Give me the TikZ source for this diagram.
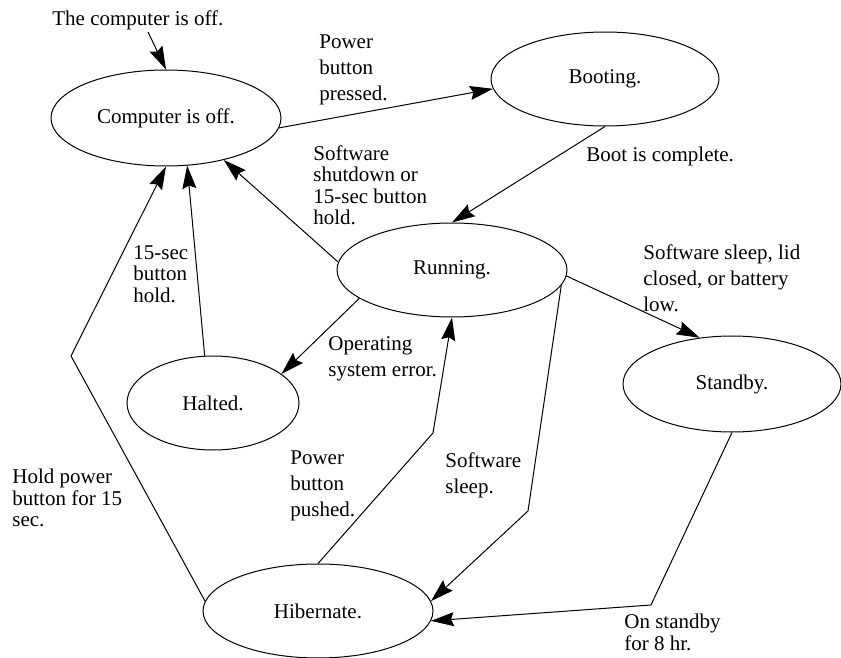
\documentclass[tikz,border=0pt]{standalone}
\usepackage{fontspec}
\setmainfont{Liberation Serif}
\usetikzlibrary{shapes.geometric,arrows.meta}
\tikzset{state/.style={draw,ellipse,inner sep=0pt,line width=0.5pt},
  note/.style={align=left,anchor=north west,inner sep=0pt},
  tight/.style={note,font=\fontsize{10.5}{10.75}\selectfont},
  trans/.style={-{Stealth[length=11.5pt,width=7pt,inset=1.5pt]},line width=0.5pt}}

\begin{document}
\begin{tikzpicture}[x=0.5pt,y=-0.5pt,font=\fontsize{10.5}{13}\selectfont]
      \useasboundingbox (0,0) rectangle (841,658);
      % states
      \node[state,minimum width=115pt,minimum height=48pt] (off) at (166,118) {Computer is off.};
      \node[state,minimum width=114pt,minimum height=47pt] (boot) at (605,79) {Booting.};
      \node[state,minimum width=115pt,minimum height=47pt] (run) at (452,270) {Running.};
      \node[state,minimum width=86pt,minimum height=47pt] (halt) at (213,403) {Halted.};
      \node[state,minimum width=109pt,minimum height=48pt] (standby) at (732,384) {Standby.};
      \node[state,minimum width=115pt,minimum height=47pt] (hib) at (318,611) {Hibernate.};

      % start point and bends
      \coordinate (start) at (148,32);
      \coordinate (k1) at (71,356);
      \coordinate (k2) at (433,433);
      \coordinate (k3) at (528,511);
      \coordinate (k4) at (651,605);

\foreach \a/\b in {start/off.north,off.-5/boot.185,boot.south/run.north,run.176/off.-36,
  run.-163/halt.23,halt.100/off.-66,run.-3/standby.125}
  \draw[trans] (\a) -- (\b);
      \draw[trans] (hib.175) -- (k1) -- (off.south);
      \draw[trans] (hib.north) -- (k2) -- (run.south);
      \draw[trans] (run.-8) -- (k3) -- (hib.5);
      \draw[trans] (standby.south) -- (k4) -- (hib.-5);

      % labels
      \node[note] (lstart) at (52,10) {The computer is off.};
      \node[note] (lpress) at (319,34) {Power\\button\\pressed.};
      \node[note] (lboot) at (586,147) {Boot is complete.};
      \node[tight] (lsoft) at (313,145) {Software\\shutdown or\\15-sec button\\hold.};
      \node[tight] (lhold) at (133,245) {15-sec\\button\\hold.};
      \node[note] (lerr) at (328,336) {Operating\\system error.};
      \node[note] (llid) at (643,244) {Software sleep, lid\\closed, or battery\\low.};
      \node[note] (lpush) at (290,450) {Power\\button\\pushed.};
      \node[tight] (lpower) at (12,469) {Hold power\\button for 15\\sec.};
      \node[note] (lsleep) at (445,452) {Software\\sleep.};
      \node[tight] (lstand) at (624,614) {On standby\\for 8 hr.};
    \end{tikzpicture}
\end{document}
